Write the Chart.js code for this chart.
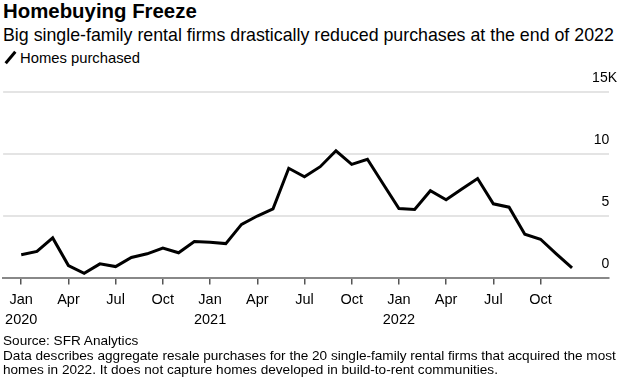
<!DOCTYPE html>
<html>
<head>
<meta charset="utf-8">
<script src="https://cdn.jsdelivr.net/npm/chart.js@4"></script>
<style>
  body { margin: 0; width: 627px; height: 384px; background: #fff; font-family: "Liberation Sans", Arial, sans-serif; color: #000; position: relative; overflow: hidden; }
  #title { position: absolute; left: 3px; top: 0px; font-size: 20.4px; font-weight: bold; }
  #subtitle { position: absolute; left: 3px; top: 25px; font-size: 17.8px; }
  #legend { position: absolute; left: 3px; top: 50px; font-size: 14.8px; }
  #legend .key { display: inline-block; width: 3px; height: 15px; background: #000; transform: rotate(40deg); margin: 0 8px 0 6px; vertical-align: -2px; }
  #chart-box { position: absolute; left: 0; top: 70px; width: 627px; height: 265px; }
  #notes { position: absolute; left: 3px; top: 334px; font-size: 13.6px; line-height: 14.5px; }
</style>
</head>
<body>
<div id="title">Homebuying Freeze</div>
<div id="subtitle">Big single-family rental firms drastically reduced purchases at the end of 2022</div>
<div id="legend"><span class="key"></span>Homes purchased</div>
<div id="chart-box"><canvas id="homesChart"></canvas></div>
<div id="notes">Source: SFR Analytics<br>Data describes aggregate resale purchases for the 20 single-family rental firms that acquired the most<br>homes in 2022. It does not capture homes developed in build-to-rent communities.</div>

<script>
// monthly, Jan 2020 .. Dec 2022 (thousands of homes)
const months = ['Jan', 'Feb', 'Mar', 'Apr', 'May', 'Jun', 'Jul', 'Aug', 'Sep', 'Oct', 'Nov', 'Dec'];
const years = ['2020', '2021', '2022'];
const homesPurchased = [
    1.90, 2.17, 3.26, 1.03, 0.41, 1.17, 0.95, 1.68, 1.98, 2.44, 2.06, 2.96,
    2.91, 2.80, 4.35, 5.02, 5.60, 8.86, 8.18, 8.99, 10.27, 9.18, 9.59, 7.60,
    5.62, 5.54, 7.06, 6.33, 7.20, 8.04, 6.00, 5.73, 3.56, 3.15, 1.98, 0.84
];
const yTicks = [0, 5, 10, 15];

const points = homesPurchased.map((v, i) => ({ x: i, y: v }));

new Chart(document.getElementById('homesChart'), {
    type: 'line',
    data: {
        datasets: [{
            label: 'Homes purchased',
            data: points,
            borderColor: '#000',
            borderWidth: 3,
            pointRadius: 0,
            tension: 0,
            fill: false
        }]
    },
    options: {
        responsive: true,
        maintainAspectRatio: false,
        animation: false,
        layout: { padding: { left: 3, right: 2, top: 22, bottom: 0 } },
        plugins: { legend: { display: false }, tooltip: { enabled: false } },
        scales: {
            x: {
                type: 'linear',
                min: -1.15,
                max: 37.35,
                afterBuildTicks: function(scale) {
                    const t = [];
                    for (let i = 0; i < 36; i += 3) t.push({ value: i });
                    scale.ticks = t;
                },
                ticks: {
                    autoSkip: false,
                    maxRotation: 0,
                    padding: 5,
                    color: '#000',
                    font: { family: 'Liberation Sans', size: 14.5, lineHeight: 1.4 },
                    callback: function(value) {
                        const m = months[value % 12];
                        if (value % 12 === 0) return [m, years[value / 12]];
                        return m;
                    }
                },
                grid: {
                    drawOnChartArea: false,
                    drawTicks: true,
                    tickLength: 6,
                    color: '#555',
                    lineWidth: 1.5
                },
                border: { display: true, color: '#888', width: 2 }
            },
            y: {
                position: 'right',
                min: 0,
                max: 15,
                afterBuildTicks: function(scale) {
                    scale.ticks = yTicks.map(v => ({ value: v }));
                },
                ticks: {
                    mirror: true,
                    padding: 8,
                    labelOffset: -14,
                    color: '#000',
                    font: { family: 'Liberation Sans', size: 14 },
                    callback: function(value) {
                        // hang the K past the right edge of the other numbers
                        return value === 15 ? '15K' : String(value) + '\u2007';
                    }
                },
                grid: {
                    drawTicks: false,
                    lineWidth: 2,
                    color: function(ctx) {
                        return ctx.tick && ctx.tick.value === 0 ? 'rgba(0,0,0,0)' : '#e4e4e4';
                    }
                },
                border: { display: false }
            }
        }
    }
});
</script>
</body>
</html>
